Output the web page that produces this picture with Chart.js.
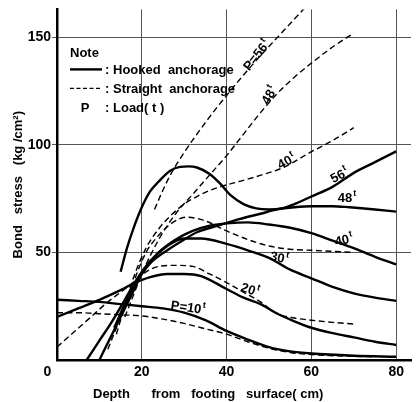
<!DOCTYPE html>
<html><head><meta charset="utf-8">
<script src="https://cdn.jsdelivr.net/npm/chart.js@4.4.1/dist/chart.umd.min.js"></script>
<style>html,body{margin:0;padding:0;background:#fff;}</style>
</head><body>
<canvas id="c" width="419" height="402"></canvas>
<script>
// ---- data ----
const xTicks = [0, 20, 40, 60, 80];
const yTicks = [50, 100, 150];

const hooked10X = [0, 5, 10, 15, 20, 25, 30, 35, 40, 45, 50, 55, 60, 70, 80];
const hooked10Y = [28, 27.5, 27, 26, 25, 24, 22, 18.5, 13.5, 9.5, 6, 4, 3, 2, 1.5];
const straight10X = [0, 5, 10, 15, 20, 25, 30, 35, 40, 45, 50, 55, 60, 65, 70, 75];
const straight10Y = [22, 22, 21.5, 21, 20.5, 19, 17, 14.5, 12, 8.5, 5.5, 3.5, 2.5, 2, 1.7, 1.5];

const hooked20X = [0, 5, 10, 15, 18, 22, 26, 30, 34, 40, 44, 48, 52, 56, 60, 65, 70, 75, 80];
const hooked20Y = [20, 24, 28, 32.5, 35.5, 38.5, 40, 40, 39, 33, 29, 26, 21.5, 18, 15, 12.5, 10.5, 8.5, 7];
const straight20X = [0, 4, 8, 12, 15, 18, 21, 24, 28, 32, 36, 40, 44, 48, 52, 56, 60, 65, 70];
const straight20Y = [6, 13, 20, 27, 31.5, 36, 41, 43.5, 44, 43.5, 40, 36, 31.5, 27, 21.5, 19.5, 18.5, 17.5, 16.7];

const hooked30X = [7, 10, 13, 16, 19, 22, 26, 30, 34, 40, 45, 50, 55, 60, 65, 70, 75, 80];
const hooked30Y = [0, 9, 18, 28, 38, 46, 53, 56.5, 56.5, 54, 51, 47.5, 42, 38, 34, 31, 29, 27.5];
const straight30X = [12, 15, 18, 21, 24, 27, 30.5, 34.5, 40, 45, 50, 55, 60, 65, 70];
const straight30Y = [5, 20, 36, 50, 58, 63.5, 66.4, 65, 60, 56, 53, 51.5, 51, 50.5, 50];

const hooked40X = [10, 13, 16, 18, 20, 24, 28, 32, 36, 40, 45, 50, 55, 60, 65, 70, 75, 80];
const hooked40Y = [0, 12, 24, 32, 40, 50, 56, 60, 62.5, 63.5, 64, 63, 61.5, 59, 55.5, 52, 48, 44.5];
const straight40X = [14, 16, 18, 21, 24, 27, 30, 33, 36, 39.2, 43, 47.9, 53.4, 59.7, 65, 70];
const straight40Y = [12, 25, 38, 52, 61, 67.5, 72.5, 76, 78.8, 81, 83, 85.8, 89.5, 96.5, 102, 108];

const hooked48X = [13.5, 16, 19, 22, 26, 30, 33, 38, 43, 48, 52, 56, 60, 65, 69, 75, 80];
const hooked48Y = [15, 26, 37, 45, 51, 56, 59.4, 62.5, 65.5, 68, 70, 71, 71.5, 71.5, 71, 70, 69];
const straight48X = [16, 18, 20, 24, 28, 32, 36, 40, 44, 48, 52, 56, 60, 65, 70];
const straight48Y = [20, 30, 40, 56, 68, 77, 86, 95, 105, 115, 124, 131.5, 138, 145.5, 152];

const hooked56X = [15, 16.5, 18, 20, 22, 24, 26.7, 29, 31, 33, 36, 38.5, 41, 44, 47, 50, 53, 56, 60, 65, 70, 75, 80];
const hooked56Y = [41, 52, 61, 71, 78.5, 83, 88, 89.8, 90, 89.5, 86.5, 82, 76.5, 72.5, 70.5, 70, 70.5, 72.5, 76, 80.5, 87, 92, 97];
const straight56X = [23, 25, 27, 30, 33, 36, 40, 44, 48, 52, 56, 60];
const straight56Y = [70, 79, 87, 96.5, 105, 113, 123, 132.5, 141.5, 150, 158.5, 167];

// ---- helpers ----
const FONT = '"Liberation Sans", Arial, sans-serif';
function pts(xs, ys) { return xs.map((x, i) => ({ x: x, y: ys[i] })); }
function solid(xs, ys) {
  return { data: pts(xs, ys), showLine: true, borderColor: '#000', borderWidth: 2.4,
           pointRadius: 0, cubicInterpolationMode: 'monotone', fill: false };
}
function dashed(xs, ys) {
  return { data: pts(xs, ys), showLine: true, borderColor: '#000', borderWidth: 1.4,
           borderDash: [6, 3.5], pointRadius: 0, cubicInterpolationMode: 'monotone', fill: false };
}

// curve label annotations (anchored in data coordinates)
const curveLabels = [
  { main: 'P=56', sup: 't', x: 47.2, y: 141.5, ang: -52 },
  { main: '48', sup: 't', x: 50.2, y: 123.0, ang: -60 },
  { main: '40', sup: 't', x: 54.2, y: 92.1, ang: -28 },
  { main: '56', sup: 't', x: 66.7, y: 85.6, ang: -28 },
  { main: '48', sup: 't', x: 68.4, y: 75, ang: 0 },
  { main: '40', sup: 't', x: 67.7, y: 55.5, ang: -12 },
  { main: '30', sup: 't', x: 52.4, y: 47.2, ang: 12 },
  { main: '20', sup: 't', x: 45.5, y: 32.4, ang: 18 },
  { main: 'P=10', sup: 't', x: 30.9, y: 24.1, ang: 8 }
];

function drawLbl(ctx, px, py, ang, main, sup) {
  ctx.save();
  ctx.translate(px, py);
  ctx.rotate(ang * Math.PI / 180);
  ctx.fillStyle = '#000';
  ctx.textBaseline = 'middle';
  ctx.textAlign = 'left';
  ctx.font = 'bold 13px ' + FONT;
  const w = ctx.measureText(main).width;
  ctx.font = 'bold 9px ' + FONT;
  const ws = ctx.measureText(sup).width;
  const tot = w + ws + 1;
  ctx.font = 'bold 13px ' + FONT;
  ctx.fillText(main, -tot / 2, 0);
  ctx.font = 'bold 9px ' + FONT;
  ctx.fillText(sup, -tot / 2 + w + 1, -5);
  ctx.restore();
}

const annotate = {
  id: 'annotate',
  afterDatasetsDraw(chart) {
    const ctx = chart.ctx, xs = chart.scales.x, ys = chart.scales.y, a = chart.chartArea;
    curveLabels.forEach(l => drawLbl(ctx, xs.getPixelForValue(l.x), ys.getPixelForValue(l.y), l.ang, l.main, l.sup));
    // note / legend
    ctx.save();
    ctx.fillStyle = '#000';
    ctx.strokeStyle = '#000';
    ctx.textBaseline = 'middle';
    ctx.font = 'bold 13px ' + FONT;
    const L = a.left, T = a.top;
    ctx.fillText('Note', L + 13, T + 44);
    ctx.lineWidth = 2.4;
    ctx.beginPath(); ctx.moveTo(L + 13, T + 60); ctx.lineTo(L + 45, T + 60); ctx.stroke();
    ctx.lineWidth = 1.4; ctx.setLineDash([4, 2.5]);
    ctx.beginPath(); ctx.moveTo(L + 13, T + 79); ctx.lineTo(L + 45, T + 79); ctx.stroke();
    ctx.setLineDash([]);
    ctx.fillText(':', L + 48, T + 61);
    ctx.fillText(':', L + 48, T + 80);
    ctx.fillText(':', L + 48, T + 99);
    ctx.fillText('Hooked  anchorage', L + 56, T + 61);
    ctx.fillText('Straight  anchorage', L + 56, T + 80);
    ctx.fillText('Load( t )', L + 56, T + 99);
    ctx.textAlign = 'center';
    ctx.fillText('P', L + 28, T + 99);
    // x axis title
    ctx.textAlign = 'left';
    ctx.fillText('Depth      from   footing   surface( cm)', L + 36, a.bottom + 34);
    ctx.restore();
  }
};

new Chart(document.getElementById('c'), {
  type: 'scatter',
  data: {
    datasets: [
      solid(hooked10X, hooked10Y), dashed(straight10X, straight10Y),
      solid(hooked20X, hooked20Y), dashed(straight20X, straight20Y),
      solid(hooked30X, hooked30Y), dashed(straight30X, straight30Y),
      solid(hooked40X, hooked40Y), dashed(straight40X, straight40Y),
      solid(hooked48X, hooked48Y), dashed(straight48X, straight48Y),
      solid(hooked56X, hooked56Y), dashed(straight56X, straight56Y)
    ]
  },
  options: {
    responsive: false, animation: false, devicePixelRatio: 1,
    layout: { padding: { top: 8, right: 8, left: 0, bottom: 0 } },
    plugins: { legend: { display: false }, tooltip: { enabled: false } },
    scales: {
      x: {
        type: 'linear', min: 0, max: 83.5,
        afterBuildTicks(s) { s.ticks = xTicks.map(v => ({ value: v })); },
        afterFit(s) { s.height = 42; },
        ticks: { color: '#000', font: { family: FONT, weight: 'bold', size: 14 }, padding: 4, maxRotation: 0, autoSkip: false,
                 callback: v => (v === 0 ? '0     ' : String(v)) },
        grid: { color: c => (c.tick && c.tick.value === 0) ? 'rgba(0,0,0,0)' : '#555', lineWidth: 1, drawTicks: false },
        border: { color: '#000', width: 2.5 }
      },
      y: {
        type: 'linear', min: 0, max: 163,
        afterBuildTicks(s) { s.ticks = yTicks.map(v => ({ value: v })); },
        afterFit(s) { s.width = 57; },
        ticks: { color: '#000', font: { family: FONT, weight: 'bold', size: 14 }, padding: 1 },
        grid: { color: '#555', lineWidth: 1, drawTicks: true, tickLength: 5 },
        border: { color: '#000', width: 2.5 },
        title: { display: true, text: 'Bond   stress   (kg /cm²)', color: '#000',
                 font: { family: FONT, weight: 'bold', size: 13 }, padding: { top: 11, bottom: 0 } }
      }
    }
  },
  plugins: [annotate]
});
</script>
</body></html>
